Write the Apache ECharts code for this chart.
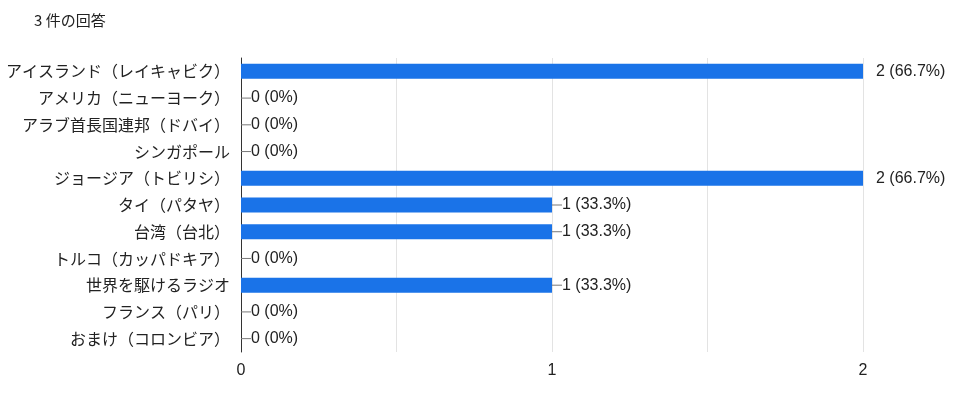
<!DOCTYPE html>
<html><head><meta charset="utf-8">
<script src="https://cdn.jsdelivr.net/npm/echarts@6/dist/echarts.min.js"></script>
<style>html,body{margin:0;padding:0;background:#fff}#c{width:960px;height:395px}</style>
</head><body><div id="c"></div>
<script>
const categories = ['アイスランド（レイキャビク）','アメリカ（ニューヨーク）','アラブ首長国連邦（ドバイ）','シンガポール','ジョージア（トビリシ）','タイ（パタヤ）','台湾（台北）','トルコ（カッパドキア）','世界を駆けるラジオ','フランス（パリ）','おまけ（コロンビア）'];
const counts = [2,0,0,0,2,1,1,0,1,0,0];
const percents = ['66.7%','0%','0%','0%','66.7%','33.3%','33.3%','0%','33.3%','0%','0%'];
const xTicks = [0,1,2];
const totalText = '3 件の回答';

const font = '"Noto Sans CJK JP", "Noto Sans", sans-serif';
const numFont = '"Liberation Sans", Arial, sans-serif';
const chart = echarts.init(document.getElementById('c'));
chart.setOption({
  animation:false,
  title:{text:totalText,left:29,top:8,textStyle:{fontFamily:font,fontSize:15,fontWeight:'normal',color:'#222'}},
  grid:{left:241,right:97,top:58,bottom:43,containLabel:false},
  xAxis:{type:'value',min:0,max:2,interval:0.5,
    axisLine:{show:false},axisTick:{show:false},
    splitLine:{lineStyle:{color:'#e3e3e3'}},
    axisLabel:{fontFamily:numFont,fontSize:16,color:'#222',margin:11,
      formatter:v=> xTicks.indexOf(v)>=0 ? String(v) : ''}},
  yAxis:{type:'category',data:categories,inverse:true,
    axisLine:{show:true,lineStyle:{color:'#333',width:1}},axisTick:{show:false},
    axisLabel:{fontFamily:font,fontSize:16,color:'#222',margin:11}},
  series:[{type:'bar',data:counts,barWidth:15,itemStyle:{color:'#1a73e8'},
    label:{show:true,position:'right',distance:0,fontFamily:numFont,fontSize:16,color:'#222',
      formatter:p=> p.value===2 ? '{g|}{t|'+p.value+' ('+percents[p.dataIndex]+')}' : '{ln|}{t|'+p.value+' ('+percents[p.dataIndex]+')}',
      rich:{ln:{width:10,height:1,backgroundColor:'#777'},g:{width:13,height:1},t:{fontSize:16,color:'#222',fontFamily:numFont}}}}]
});
</script></body></html>
